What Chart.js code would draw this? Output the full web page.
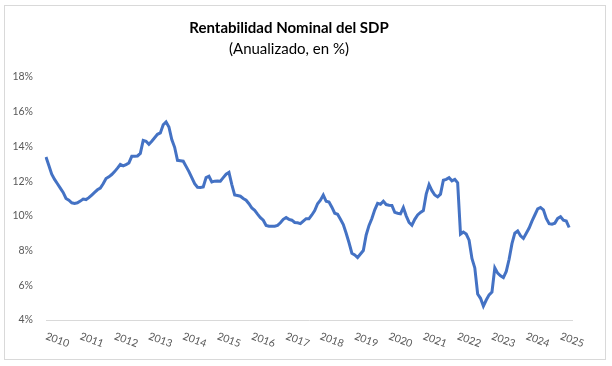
<!DOCTYPE html>
<html>
<head>
<meta charset="utf-8">
<script src="https://cdn.jsdelivr.net/npm/chart.js@4.4.1/dist/chart.umd.min.js"></script>
<style>
  html, body { margin: 0; padding: 0; background: #fff; }
  #wrap { width: 612px; height: 366px; }
</style>
</head>
<body>
<div id="wrap"><canvas id="rentChart"></canvas></div>
<script>
// Rentabilidad nominal del SDP, anualizada (%), mensual ene-2010 .. abr-2025
const years = ['2010', '2011', '2012', '2013', '2014', '2015', '2016', '2017',
               '2018', '2019', '2020', '2021', '2022', '2023', '2024', '2025'];
const months = ['01', '02', '03', '04', '05', '06', '07', '08', '09', '10', '11', '12'];
const yTicks = [4, 6, 8, 10, 12, 14, 16, 18];

const rentabilidad = [
  13.39, 12.90, 12.40, 12.10, 11.85, 11.60, 11.35, 11.00, 10.90, 10.75, 10.72, 10.75,
  10.85, 10.97, 10.94, 11.05, 11.20, 11.35, 11.50, 11.60, 11.85, 12.15, 12.25, 12.38,
  12.55, 12.75, 12.96, 12.88, 12.95, 13.05, 13.43, 13.43, 13.45, 13.60, 14.35, 14.30,
  14.12, 14.30, 14.50, 14.70, 14.78, 15.25, 15.41, 15.12, 14.40, 13.95, 13.20, 13.18,
  13.15, 12.85, 12.55, 12.20, 11.85, 11.65, 11.63, 11.67, 12.20, 12.28, 11.95, 12.00,
  12.01, 12.00, 12.20, 12.40, 12.50, 11.80, 11.20, 11.17, 11.13, 11.00, 10.90, 10.70,
  10.45, 10.32, 10.10, 9.90, 9.75, 9.45, 9.40, 9.40, 9.40, 9.45, 9.60, 9.80,
  9.90, 9.80, 9.75, 9.62, 9.60, 9.55, 9.70, 9.84, 9.84, 10.05, 10.30, 10.70,
  10.90, 11.20, 10.84, 10.80, 10.50, 10.15, 10.09, 9.80, 9.50, 9.00, 8.45, 7.85,
  7.75, 7.60, 7.80, 8.00, 8.90, 9.45, 9.85, 10.35, 10.72, 10.67, 10.84, 10.65,
  10.61, 10.60, 10.20, 10.15, 10.12, 10.48, 10.00, 9.62, 9.46, 9.80, 10.05, 10.20,
  10.30, 11.25, 11.80, 11.45, 11.20, 11.09, 11.25, 12.05, 12.10, 12.20, 12.02, 12.10,
  11.90, 8.95, 9.07, 8.95, 8.60, 7.55, 7.00, 5.50, 5.25, 4.80, 5.15, 5.45,
  5.61, 7.00, 6.70, 6.55, 6.44, 6.80, 7.50, 8.40, 9.00, 9.13, 8.85, 8.70,
  9.00, 9.30, 9.70, 10.05, 10.40, 10.48, 10.35, 9.85, 9.55, 9.52, 9.58, 9.85,
  9.95, 9.75, 9.70, 9.33
];

// categorias mensuales; Excel deja un hueco despues del ultimo mes
const categorias = [];
years.forEach(y => months.forEach(m => categorias.push(y + '-' + m)));
categorias.length = rentabilidad.length + 1;

const colorTexto = '#595959';

const marcoYEtiquetas = {
  id: 'marcoYEtiquetas',
  beforeDraw(chart) {
    const ctx = chart.ctx;
    ctx.save();
    ctx.fillStyle = '#ffffff';
    ctx.fillRect(0, 0, chart.width, chart.height);
    ctx.strokeStyle = '#d9d9d9';
    ctx.lineWidth = 1;
    ctx.strokeRect(4.5, 5.5, 601, 354);
    ctx.restore();
  },
  afterDraw(chart) {
    const xScale = chart.scales.x;
    const ctx = chart.ctx;
    ctx.save();
    ctx.font = '10.5px Lato';
    ctx.fillStyle = colorTexto;
    ctx.textAlign = 'center';
    ctx.textBaseline = 'middle';
    categorias.forEach((c, i) => {
      if (!c.endsWith('-01')) return;
      const px = xScale.getPixelForValue(i);
      ctx.save();
      ctx.translate(px + 11.5, 340);
      ctx.rotate(20 * Math.PI / 180);
      ctx.fillText(c.slice(0, 4), 0, 0);
      ctx.restore();
    });
    ctx.restore();
  }
};

new Chart(document.getElementById('rentChart'), {
  type: 'line',
  data: {
    labels: categorias,
    datasets: [{
      data: rentabilidad,
      borderColor: '#4472C4',
      borderWidth: 3,
      pointRadius: 0,
      tension: 0,
      fill: false
    }]
  },
  options: {
    responsive: true,
    maintainAspectRatio: false,
    animation: false,
    layout: { padding: { left: 6, right: 40, bottom: 46, top: 0 } },
    plugins: {
      legend: { display: false },
      tooltip: { enabled: false },
      title: {
        display: true,
        text: 'Rentabilidad Nominal del SDP',
        color: '#000000',
        font: { family: 'Lato', size: 15, weight: 'bold', lineHeight: 1.2 },
        padding: { top: 19, bottom: 3 }
      },
      subtitle: {
        display: true,
        text: '(Anualizado, en %)',
        color: '#000000',
        font: { family: 'Lato', size: 15, lineHeight: 1.2 },
        padding: { top: 0, bottom: 19 }
      }
    },
    scales: {
      x: {
        ticks: { display: false },
        grid: { display: false, drawTicks: false },
        border: { color: '#d9d9d9', width: 1 }
      },
      y: {
        min: 4,
        max: 18,
        afterBuildTicks(s) { s.ticks = yTicks.map(v => ({ value: v })); },
        afterFit(s) { s.width = 40; },
        ticks: {
          callback: v => v + '%',
          color: colorTexto,
          font: { family: 'Lato', size: 10.5 },
          padding: 13
        },
        grid: { display: false, drawTicks: false },
        border: { display: false }
      }
    }
  },
  plugins: [marcoYEtiquetas]
});
</script>
</body>
</html>
